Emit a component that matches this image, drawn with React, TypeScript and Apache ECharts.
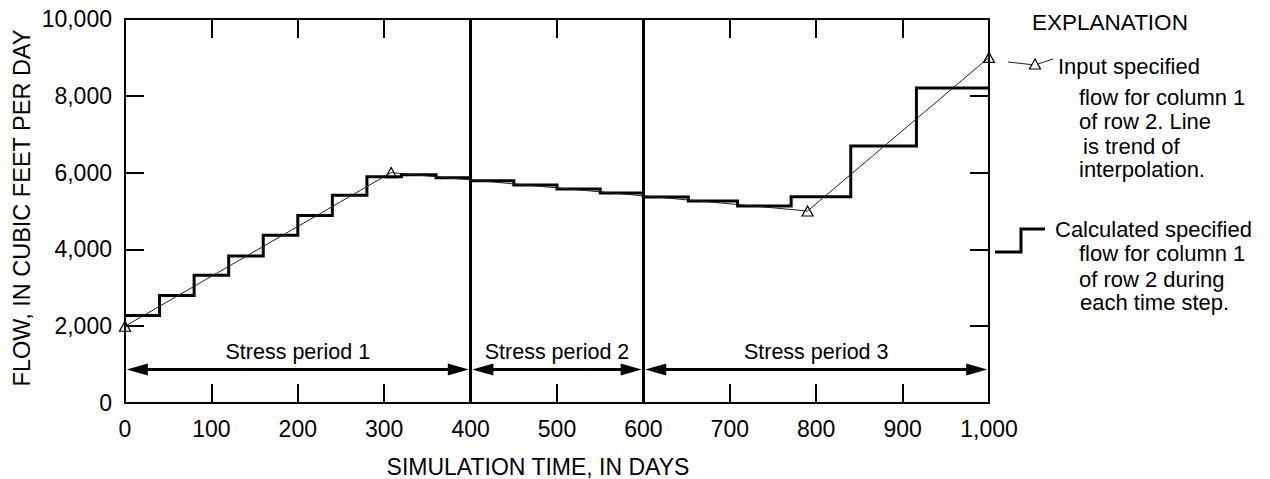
import React, { useEffect, useRef } from "react";
import * as echarts from "echarts";

// Input specified flow (triangles) and trend of interpolation
const inputDays = [0, 308, 790, 1000];
const inputFlow = [2000, 6000, 5000, 9000];

// Calculated specified flow for each time step (start day of step, flow)
const stepStart = [0, 40, 80, 120, 160, 200, 240, 280, 320, 360, 400, 450, 500, 550, 600, 652, 709, 771, 840, 916];
const stepFlow = [2280, 2800, 3330, 3830, 4370, 4880, 5410, 5890, 5945, 5865, 5785, 5680, 5575, 5470, 5365, 5260, 5130, 5370, 6695, 8205];
const simulationEnd = 1000;

// Stress periods
const periodStart = [0, 400, 600];
const periodEnd = [400, 600, 1000];
const periodLabels = ["Stress period 1", "Stress period 2", "Stress period 3"];
const periodArrowFlow = 870;

const xMin = 0, xMax = 1000, xInterval = 100;
const yMin = 0, yMax = 10000, yInterval = 2000;

const FONT = "Liberation Sans, Arial, Helvetica, sans-serif";

export default function App() {
  const ref = useRef<HTMLDivElement>(null);
  useEffect(() => {
    if (!ref.current) return;
    const chart = echarts.init(ref.current, undefined, { renderer: "svg" });

    const stepData = stepStart.map((d, i) => [d, stepFlow[i]]);
    stepData.push([simulationEnd, stepFlow[stepFlow.length - 1]]);
    const inputData = inputDays.map((d, i) => [d, inputFlow[i]]);
    const periodData = periodStart.map((s, i) => [s, periodEnd[i], periodLabels[i]]);

    const fmt = (v: number) => v.toLocaleString("en-US");
    const axisLineStyle = { color: "#000", width: 2 };
    const tickCommon = { show: true, inside: true, length: 19, lineStyle: { color: "#000", width: 2 } };

    const txt = (text: string, x: number, y: number, size = 22) => ({
      type: "text",
      x,
      y,
      style: { text, fill: "#000", font: `${size}px ${FONT}`, lineHeight: 20, align: "left", verticalAlign: "middle" },
      silent: true,
    });

    chart.setOption({
      animation: false,
      backgroundColor: "#fff",
      grid: { left: 125, right: 281, top: 19, bottom: 76, containLabel: false },
      xAxis: [
        {
          type: "value", min: xMin, max: xMax, interval: xInterval, position: "bottom",
          axisLine: { show: true, onZero: false, lineStyle: axisLineStyle },
          axisTick: tickCommon,
          axisLabel: { show: true, margin: 14, color: "#000", fontSize: 23, fontFamily: FONT, formatter: fmt },
          splitLine: { show: false },
        },
        {
          type: "value", min: xMin, max: xMax, interval: xInterval, position: "top",
          axisLine: { show: true, onZero: false, lineStyle: axisLineStyle },
          axisTick: tickCommon,
          axisLabel: { show: false },
          splitLine: { show: false },
        },
      ],
      yAxis: [
        {
          type: "value", min: yMin, max: yMax, interval: yInterval, position: "left",
          axisLine: { show: true, onZero: false, lineStyle: axisLineStyle },
          axisTick: tickCommon,
          axisLabel: { show: true, margin: 13, color: "#000", fontSize: 23, fontFamily: FONT, formatter: fmt },
          splitLine: { show: false },
        },
        {
          type: "value", min: yMin, max: yMax, interval: yInterval, position: "right",
          axisLine: { show: true, onZero: false, lineStyle: axisLineStyle },
          axisTick: tickCommon,
          axisLabel: { show: false },
          splitLine: { show: false },
        },
      ],
      series: [
        {
          type: "line",
          name: "Input specified flow",
          data: inputData,
          xAxisIndex: 0, yAxisIndex: 0,
          lineStyle: { color: "#222", width: 1 },
          symbol: "triangle",
          symbolSize: [11, 10],
          showAllSymbol: true,
          itemStyle: { color: "rgba(255,255,255,0)", borderColor: "#000", borderWidth: 1.2 },
          clip: false,
          z: 5,
        },
        {
          type: "line",
          name: "Calculated specified flow",
          data: stepData,
          step: "end",
          xAxisIndex: 0, yAxisIndex: 0,
          symbol: "none",
          lineStyle: { color: "#000", width: 3, join: "miter", cap: "butt" },
          z: 4,
          markLine: {
            silent: true,
            symbol: "none",
            label: { show: false },
            lineStyle: { color: "#000", width: 3, type: "solid" },
            data: [{ xAxis: periodEnd[0] }, { xAxis: periodEnd[1] }],
          },
        },
        {
          type: "custom",
          name: "Stress periods",
          data: periodData,
          xAxisIndex: 0, yAxisIndex: 0,
          silent: true,
          z: 6,
          renderItem: (params: any, api: any) => {
            const p0 = api.coord([api.value(0), periodArrowFlow]);
            const p1 = api.coord([api.value(1), periodArrowFlow]);
            const inset = 1.8;
            const lx = p0[0] + inset;
            const rx = p1[0] - inset;
            const y = p0[1];
            const hl = 21, hw = 6;
            const label = periodLabels[params.dataIndex];
            return {
              type: "group",
              children: [
                { type: "line", shape: { x1: lx + hl - 2, y1: y, x2: rx - hl + 2, y2: y }, style: { stroke: "#000", lineWidth: 3 } },
                { type: "polygon", shape: { points: [[lx, y], [lx + hl, y - hw], [lx + hl, y + hw]] }, style: { fill: "#000" } },
                { type: "polygon", shape: { points: [[rx, y], [rx - hl, y - hw], [rx - hl, y + hw]] }, style: { fill: "#000" } },
                {
                  type: "text",
                  x: (p0[0] + p1[0]) / 2,
                  y: y - 18,
                  style: { text: label, fill: "#000", font: `21.5px ${FONT}`, align: "center", verticalAlign: "middle" },
                },
              ],
            };
          },
        },
      ],
      graphic: [
        {
          type: "text", x: 22, y: 208, rotation: Math.PI / 2,
          style: { text: "FLOW, IN CUBIC FEET PER DAY", fill: "#000", font: `23.5px ${FONT}`, lineHeight: 22, align: "center", verticalAlign: "middle" },
          silent: true,
        },
        {
          type: "text", x: 538, y: 467,
          style: { text: "SIMULATION TIME, IN DAYS", fill: "#000", font: `23px ${FONT}`, lineHeight: 20, align: "center", verticalAlign: "middle" },
          silent: true,
        },
        txt("EXPLANATION", 1032, 22, 22.5),
        { type: "polyline", shape: { points: [[1008, 62], [1035, 65], [1053, 59]] }, style: { stroke: "#222", lineWidth: 1, fill: null }, silent: true },
        { type: "polygon", shape: { points: [[1035, 59], [1029.5, 69], [1040.5, 69]] }, style: { stroke: "#000", lineWidth: 1.2, fill: "#fff" }, silent: true },
        txt("Input specified", 1058, 66),
        txt("flow for column 1", 1079, 97.5),
        txt("of row 2. Line", 1079, 121),
        txt("is trend of", 1083, 146.5),
        txt("interpolation.", 1079, 169.5),
        { type: "polyline", shape: { points: [[995, 252], [1021, 252], [1021, 229], [1045, 229]] }, style: { stroke: "#000", lineWidth: 3, fill: null, lineJoin: "miter" }, silent: true },
        txt("Calculated specified", 1055, 229.5),
        txt("flow for column 1", 1079, 253),
        txt("of row 2 during", 1079, 279),
        txt("each time step.", 1080, 302),
      ],
    });

    return () => chart.dispose();
  }, []);

  return <div ref={ref} style={{ position: "fixed", left: 0, top: 0, width: 1270, height: 479, background: "#fff" }} />;
}
